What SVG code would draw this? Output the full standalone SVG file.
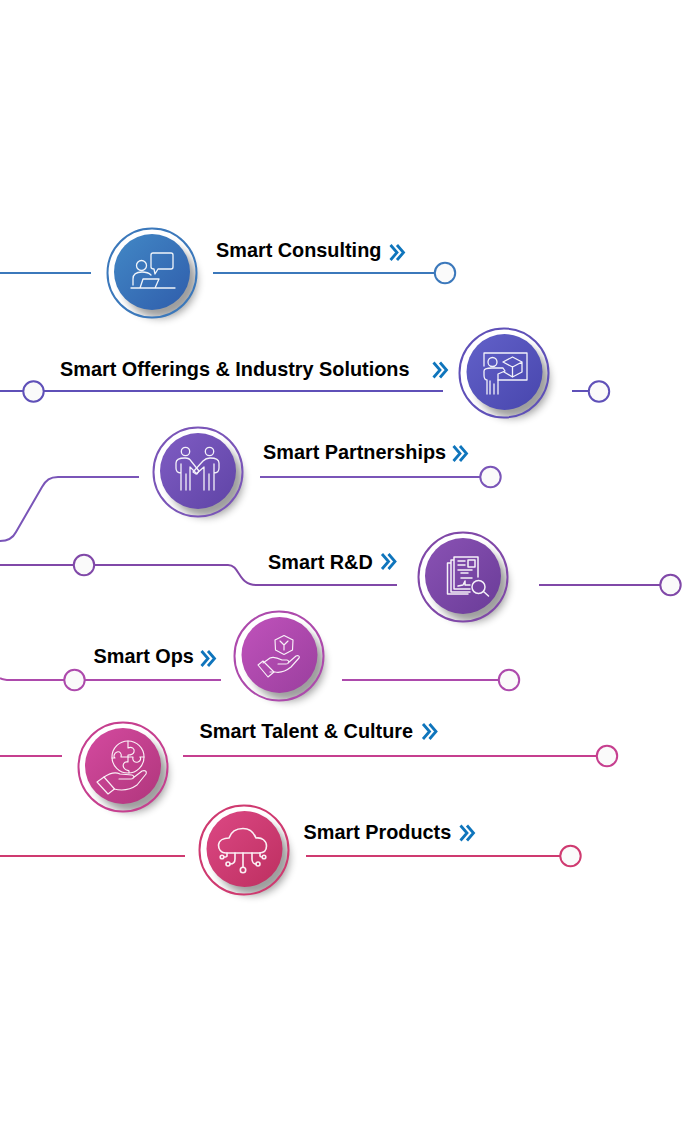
<svg xmlns="http://www.w3.org/2000/svg" width="700" height="1137" viewBox="0 0 700 1137">
<style>
.bg{fill:#fff}
.lbl{font-family:"Liberation Sans",Arial,sans-serif;font-weight:700;font-size:19.85px;fill:#000}
.ring{fill:none;stroke-width:2}
.ringbg{fill:#fff}
.ln{fill:none;stroke-width:2;stroke-linecap:butt}
.dot{fill:#fafafa;stroke-width:2}
.chev{fill:none;stroke:#0f75bc;stroke-width:2.8}
.ic{fill:none;stroke:#fff;stroke-width:1.3;stroke-linejoin:round;stroke-linecap:round;opacity:.92}
.sh{fill:#000;opacity:.38;filter:url(#blur)}
</style>
<defs>
<filter id="blur" x="-40%" y="-40%" width="180%" height="180%"><feGaussianBlur stdDeviation="4.5"/></filter>
<linearGradient id="g1" x1="0" y1="0" x2="1" y2="1"><stop offset="0" stop-color="#4288c6"/><stop offset="1" stop-color="#2f5dab"/></linearGradient>
<linearGradient id="g2" x1="0" y1="0" x2="1" y2="1"><stop offset="0" stop-color="#6261c9"/><stop offset="1" stop-color="#4846ad"/></linearGradient>
<linearGradient id="g3" x1="0" y1="0" x2="1" y2="1"><stop offset="0" stop-color="#7f5cc3"/><stop offset="1" stop-color="#5f44a6"/></linearGradient>
<linearGradient id="g4" x1="0" y1="0" x2="1" y2="1"><stop offset="0" stop-color="#8a52b4"/><stop offset="1" stop-color="#6a3c98"/></linearGradient>
<linearGradient id="g5" x1="0" y1="0" x2="1" y2="1"><stop offset="0" stop-color="#c052bb"/><stop offset="1" stop-color="#9a3f9e"/></linearGradient>
<linearGradient id="g6" x1="0" y1="0" x2="1" y2="1"><stop offset="0" stop-color="#d44a9f"/><stop offset="1" stop-color="#b0367c"/></linearGradient>
<linearGradient id="g7" x1="0" y1="0" x2="1" y2="1"><stop offset="0" stop-color="#dc4884"/><stop offset="1" stop-color="#bd2f60"/></linearGradient>
<circle id="shadow" class="sh" cx="8" cy="9" r="37"/>
<path id="chevs" d="M0 0L6.500 7.500L0 15M6.500 0L13 7.500L6.500 15"/>
</defs>
<rect class="bg" width="700" height="1137"/>
<g id="connectors">
<g stroke="#3b78bb"><path class="ln" d="M0 273H91M213 273H435"/><circle class="dot" cx="445" cy="273" r="10.200"/></g>
<g stroke="#5f50b8"><path class="ln" d="M0 391H23M44 391H443M572 391H588"/><circle class="dot" cx="33.500" cy="391.500" r="10.200"/><circle class="dot" cx="599" cy="391.500" r="10.200"/></g>
<g stroke="#7a55b8"><path class="ln" d="M0 541C7 541 13 538 16 532L42 487C46 480 50 477 58 477H139M260 477H480"/><circle class="dot" cx="490.500" cy="477" r="10.200"/></g>
<g stroke="#8048a8"><path class="ln" d="M0 565H73M94 565H228C240 565 238 585 256 585H397M539 585H660"/><circle class="dot" cx="84" cy="565" r="10.200"/><circle class="dot" cx="670.500" cy="585" r="10.200"/></g>
<g stroke="#ad4aac"><path class="ln" d="M0 678C3 680 5 680 10 680H64M85 680H221M342 680H498"/><circle class="dot" cx="74.500" cy="680" r="10.200"/><circle class="dot" cx="509" cy="680" r="10.200"/></g>
<g stroke="#c63f8f"><path class="ln" d="M0 756H62M183 756H597"/><circle class="dot" cx="607" cy="756" r="10.200"/></g>
<g stroke="#cf3a70"><path class="ln" d="M0 856H185M306 856H560"/><circle class="dot" cx="570.500" cy="856" r="10.200"/></g>
</g>
<g id="node-consulting">
<circle class="ringbg" cx="152" cy="273" r="44.500"/>
<use href="#shadow" x="152" y="272"/>
<circle class="ring" cx="152" cy="273" r="44.500" stroke="#3b78bb"/>
<circle cx="152" cy="272" r="38" fill="url(#g1)"/>
<g class="ic"><circle cx="141.500" cy="265.500" r="5"/><path d="M133 285V279C133 274 137 272 142 272C146 272 149 273 151 275"/><path d="M153 253H171Q173 253 173 255V267Q173 269 171 269H158L155 274L154 269Q151 269 151 267V255Q151 253 153 253Z"/><path d="M131 288H175M140 288L143 279H159L155 288"/></g>
<text class="lbl" x="216" y="257">Smart Consulting</text>
<use href="#chevs" class="chev" x="390.500" y="245"/>
</g>
<g id="node-offerings">
<circle class="ringbg" cx="504" cy="373" r="44.500"/>
<use href="#shadow" x="504.500" y="372"/>
<circle class="ring" cx="504" cy="373" r="44.500" stroke="#5f50b8"/>
<circle cx="504.500" cy="372" r="38" fill="url(#g2)"/>
<g class="ic"><path d="M484 366V353H527V380H498"/><circle cx="492.500" cy="362" r="4.500"/><path d="M487 394V380C485 380 484 378 484 375V371C484 369 487 368 492 368H503L505 371L498 374V394M490 381V394M494 384V394"/><path d="M503 362L512.500 357L522 362V372L512.500 377L504 372M503 362L512.500 367L522 362M512.500 367V377"/></g>
<text class="lbl" x="60" y="375.500">Smart Offerings &amp; Industry Solutions</text>
<use href="#chevs" class="chev" x="433.500" y="362.500"/>
</g>
<g id="node-partnerships">
<circle class="ringbg" cx="198" cy="472" r="44.500"/>
<use href="#shadow" x="198" y="471"/>
<circle class="ring" cx="198" cy="472" r="44.500" stroke="#7a55b8"/>
<circle cx="198" cy="471" r="38" fill="url(#g3)"/>
<g class="ic"><circle cx="185.500" cy="451.500" r="4.200"/><circle cx="209.500" cy="451.500" r="4.200"/><path d="M181 473C178 473 176 471 176 468V463C176 460 179 458 185 458C189 458 190 459 191 461L199 471L197 474L190 467V490M181 464V490M186 474V490"/><path d="M214 473C217 473 219 471 219 468V463C219 460 216 458 210 458C206 458 205 459 203 461L193 472L196 474L204 467V490M214 464V490M209 474V490"/></g>
<text class="lbl" x="263" y="458.500">Smart Partnerships</text>
<use href="#chevs" class="chev" x="453.500" y="446"/>
</g>
<g id="node-rd">
<circle class="ringbg" cx="463" cy="577" r="44.500"/>
<use href="#shadow" x="463" y="576"/>
<circle class="ring" cx="463" cy="577" r="44.500" stroke="#8048a8"/>
<circle cx="463" cy="576" r="38" fill="url(#g4)"/>
<g class="ic" style="stroke-width:1.500"><path d="M478 577V557H454V589H470M454 560H451V592H470M451 563H447.500V594H468"/><path d="M458 561H465M458 565H465M458 570H472M461 573H468M461 578H472M458 586L463 585L465 581V585H470M468 560H475V567H468Z"/><circle cx="478.500" cy="587" r="6.500"/><path d="M483.500 591.500L488.500 596"/></g>
<text class="lbl" x="268" y="568.500">Smart R&amp;D</text>
<use href="#chevs" class="chev" x="382" y="554"/>
</g>
<g id="node-ops">
<circle class="ringbg" cx="279" cy="656" r="44.500"/>
<use href="#shadow" x="279.500" y="655"/>
<circle class="ring" cx="279" cy="656" r="44.500" stroke="#ad4aac"/>
<circle cx="279.500" cy="655" r="38" fill="url(#g5)"/>
<g class="ic" style="stroke-width:1.150"><path d="M275 640L284 635.500L293 640L292.500 650L284 654.500L275.500 650Z"/><path d="M284 645V650M284 645L280 641M284 645L288 641"/><path d="M263 663L270 658C274 656 278 658 282 660H287C290 661 289 664 286 664H278M288 663L296 656C298 655 300 656 299 658L291 667C286 671 280 673 275 672L270 672"/><path d="M258 665L263 661L274 672L268 677Z"/></g>
<text class="lbl" x="93.500" y="663">Smart Ops</text>
<use href="#chevs" class="chev" x="201.500" y="651"/>
</g>
<g id="node-talent">
<circle class="ringbg" cx="123" cy="767" r="44.500"/>
<use href="#shadow" x="123" y="766"/>
<circle class="ring" cx="123" cy="767" r="44.500" stroke="#c63f8f"/>
<circle cx="123" cy="766" r="38" fill="url(#g6)"/>
<g class="ic" style="stroke-width:1.150"><circle cx="128" cy="757" r="16"/><path d="M128 741V748C132 746 135 749 134 752C133 755 130 755 128 755V757H121C122 754 120 751 117 752C114 753 113 757 115 758H112"/><path d="M128 757V762C124 761 122 765 124 768C126 771 128 770 129 771V773M128 757H133C132 761 135 763 138 762C141 761 141 758 140 757H144"/><path d="M104 777C110 773 116 772 120 774L132 775C135 776 134 779 131 779H119M133 778L142 771C145 770 147 771 146 774L137 785C130 790 122 791 114 789"/><path d="M97 782L104 777L114.500 789L108 794Z"/></g>
<text class="lbl" x="199.500" y="738">Smart Talent &amp; Culture</text>
<use href="#chevs" class="chev" x="423" y="724"/>
</g>
<g id="node-products">
<circle class="ringbg" cx="244" cy="850" r="44.500"/>
<use href="#shadow" x="244.500" y="849"/>
<circle class="ring" cx="244" cy="850" r="44.500" stroke="#cf3a70"/>
<circle cx="244.500" cy="849" r="38" fill="url(#g7)"/>
<g class="ic" style="stroke-width:1.600"><path d="M226 853C220 853 218.500 848 218.500 845C219 840 224 838 229 838C231 832 236 828.500 243 828.500C250 828.500 254 833 256 838C262 837 266.500 841 266.500 846C266.500 851 263 853 259 853Z"/><path d="M243 853V867M235 853V859C235 862 233 864 230 864M252 853V859C252 862 254 864 256 864M227 853V856C227 857 226 857 224 857M260 853V856C260 857 261 857 262 857"/><circle cx="243" cy="870" r="2.700"/><circle cx="228" cy="864" r="2"/><circle cx="258" cy="864" r="2"/><circle cx="222" cy="857" r="1.800"/><circle cx="264" cy="857" r="1.800"/></g>
<text class="lbl" x="303.500" y="838.500">Smart Products</text>
<use href="#chevs" class="chev" x="460.500" y="825.500"/>
</g>
</svg>
